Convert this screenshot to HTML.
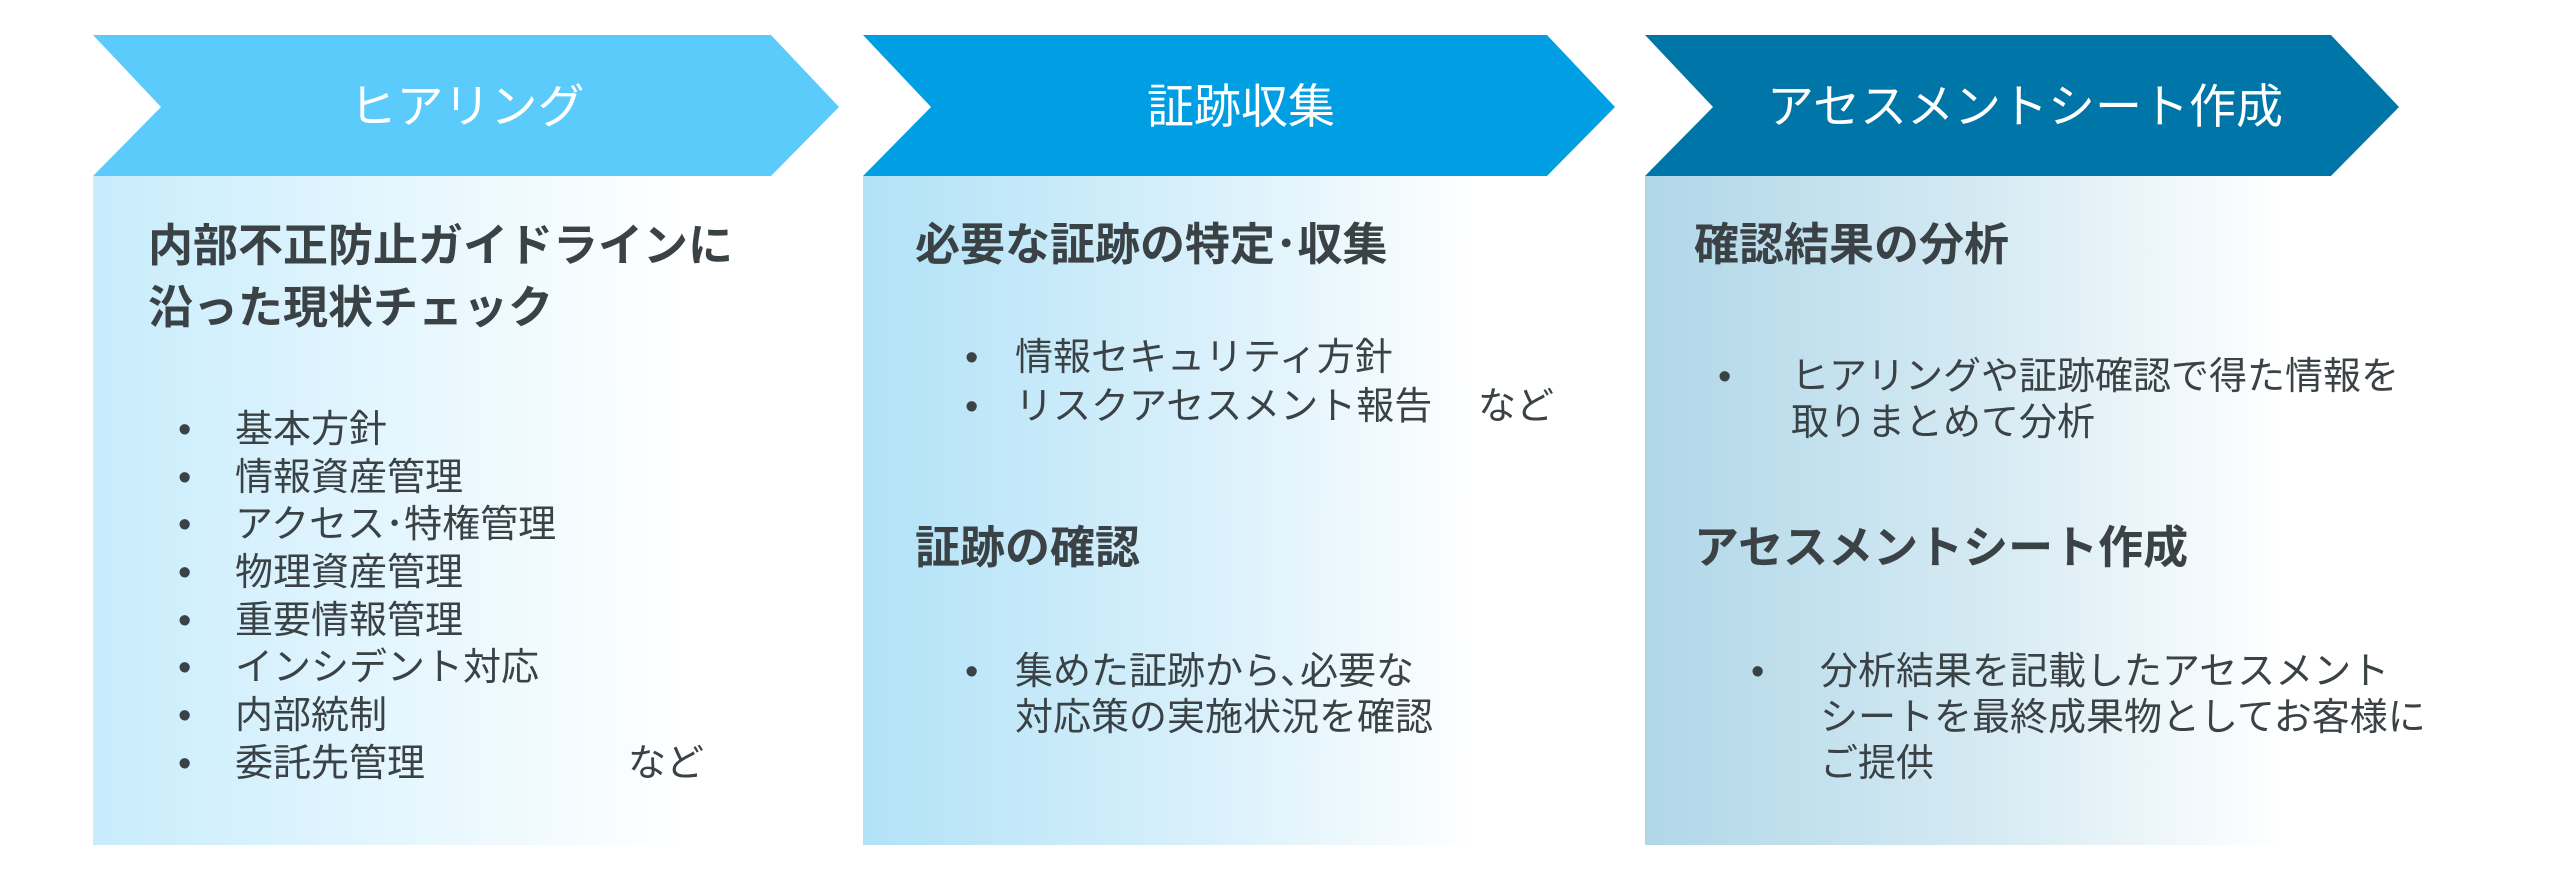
<!DOCTYPE html>
<html><head><meta charset="utf-8"><style>
body{margin:0;width:2560px;height:879px;background:#fff;position:relative;overflow:hidden;font-family:"Liberation Sans","Noto Sans CJK JP",sans-serif;color:#3a4245}
.box{position:absolute;top:176px;height:669px}
.t{position:absolute;white-space:nowrap;line-height:50px;height:50px}
.h{font-size:45px;font-weight:bold}
.b{font-size:38px}
.ti{font-size:47px;color:#fff;text-align:center;transform:translateX(-50%)}
</style></head><body>
<div class="box" style="left:93px;width:746px;background:linear-gradient(90deg,#c8ecfc 0%,#e4f6fe 40%,#fff 80%)"></div>
<div class="box" style="left:863px;width:752px;background:linear-gradient(90deg,#b2e2f7 0%,#d8f0fb 45%,#fff 82%)"></div>
<div class="box" style="left:1645px;width:754px;background:linear-gradient(90deg,#b0d7e8 0%,#d5eaf3 45%,#fff 85%)"></div>
<svg style="position:absolute;left:0;top:0" width="2560" height="879">
<polygon points="93,35 771,35 839,107 771,176 93,176 161,107" fill="#5bcbfb"/>
<polygon points="863,35 1547,35 1615,107 1547,176 863,176 931,107" fill="#009fe3"/>
<polygon points="1645,35 2331,35 2399,107 2331,176 1645,176 1713,107" fill="#0076a8"/>
</svg>
<div class="t ti" style="left:467px;top:82px">ヒアリング</div>
<div class="t ti" style="left:1241px;top:82px">証跡収集</div>
<div class="t ti" style="left:2025px;top:82px">アセスメントシート作成</div>

<div class="t h" style="left:148px;top:221px">内部不正防止ガイドラインに</div>
<div class="t h" style="left:148px;top:283px">沿った現状チェック</div>
<div class="t b" style="left:178px;top:405px">•</div><div class="t b" style="left:235px;top:405px">基本方針</div>
<div class="t b" style="left:178px;top:453px">•</div><div class="t b" style="left:235px;top:453px">情報資産管理</div>
<div class="t b" style="left:178px;top:500px">•</div><div class="t b" style="left:235px;top:500px">アクセス･特権管理</div>
<div class="t b" style="left:178px;top:548px">•</div><div class="t b" style="left:235px;top:548px">物理資産管理</div>
<div class="t b" style="left:178px;top:596px">•</div><div class="t b" style="left:235px;top:596px">重要情報管理</div>
<div class="t b" style="left:178px;top:643px">•</div><div class="t b" style="left:235px;top:643px">インシデント対応</div>
<div class="t b" style="left:178px;top:691px">•</div><div class="t b" style="left:235px;top:691px">内部統制</div>
<div class="t b" style="left:178px;top:739px">•</div><div class="t b" style="left:235px;top:739px">委託先管理</div>
<div class="t b" style="left:628px;top:739px">など</div>

<div class="t h" style="left:915px;top:220px">必要な証跡の特定･収集</div>
<div class="t b" style="left:965px;top:333px">•</div><div class="t b" style="left:1015px;top:333px">情報セキュリティ方針</div>
<div class="t b" style="left:965px;top:382px">•</div><div class="t b" style="left:1015px;top:382px">リスクアセスメント報告</div>
<div class="t b" style="left:1478px;top:382px">など</div>
<div class="t h" style="left:915px;top:523px">証跡の確認</div>
<div class="t b" style="left:965px;top:647px">•</div><div class="t b" style="left:1015px;top:647px">集めた証跡から､必要な</div>
<div class="t b" style="left:1015px;top:693px">対応策の実施状況を確認</div>

<div class="t h" style="left:1694px;top:220px">確認結果の分析</div>
<div class="t b" style="left:1718px;top:352px">•</div><div class="t b" style="left:1791px;top:352px">ヒアリングや証跡確認で得た情報を</div>
<div class="t b" style="left:1791px;top:398px">取りまとめて分析</div>
<div class="t h" style="left:1694px;top:523px">アセスメントシート作成</div>
<div class="t b" style="left:1751px;top:647px">•</div><div class="t b" style="left:1820px;top:647px">分析結果を記載したアセスメント</div>
<div class="t b" style="left:1820px;top:693px">シートを最終成果物としてお客様に</div>
<div class="t b" style="left:1820px;top:739px">ご提供</div>
</body></html>
